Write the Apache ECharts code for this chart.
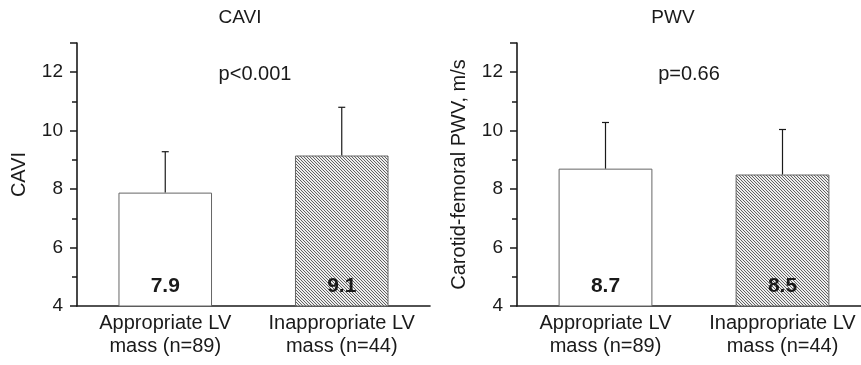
<!DOCTYPE html>
<html><head><meta charset="utf-8">
<script src="https://cdn.jsdelivr.net/npm/echarts@6/dist/echarts.min.js"></script>
<style>html,body{margin:0;padding:0;background:#fff}#c{width:861px;height:365px}</style>
</head><body><div id="c"></div>
<script>
const categories = ['Appropriate LV\nmass (n=89)', 'Inappropriate LV\nmass (n=44)'];
const caviMean = [7.88, 9.15];
const caviUpper = [9.28, 10.8];
const caviLabels = ['7.9', '9.1'];
const pwvMean = [8.7, 8.5];
const pwvUpper = [10.28, 10.04];
const pwvLabels = ['8.7', '8.5'];
const titles = ['CAVI', 'PWV'];
const pValues = ['p<0.001', 'p=0.66'];
const yNames = ['CAVI', 'Carotid-femoral PWV, m/s'];

const FONT = '"Liberation Sans", Arial, Helvetica, sans-serif';
const TXT = '#1a1a1a';

function hatch() {
  const cv = document.createElement('canvas');
  cv.width = 3; cv.height = 3;
  const ctx = cv.getContext('2d');
  const img = ctx.createImageData(3, 3);
  for (let y = 0; y < 3; y++) for (let x = 0; x < 3; x++) {
    const i = (y * 3 + x) * 4;
    const v = (x === y) ? 0x62 : 0xee;
    img.data[i] = v; img.data[i+1] = v; img.data[i+2] = v; img.data[i+3] = 255;
  }
  ctx.putImageData(img, 0, 0);
  return { image: cv, repeat: 'repeat' };
}
const pattern = hatch();

function yAxis(gi, name) {
  return {
    type: 'value', gridIndex: gi, min: 4, max: 13, interval: 2,
    name: name, nameLocation: 'middle', nameGap: 48, nameRotate: 90,
    nameTextStyle: { fontFamily: FONT, fontSize: 20, color: TXT },
    axisLine: { show: true, lineStyle: { color: TXT, width: 1.6 } },
    axisTick: { show: true, length: 7, lineStyle: { color: TXT, width: 1.5 } },
    minorTick: { show: true, splitNumber: 2, length: 5, lineStyle: { color: TXT, width: 1.5 } },
    axisLabel: { fontFamily: FONT, fontSize: 19, color: TXT, margin: 14,
      formatter: v => (v === 13 ? '' : String(v)) },
    splitLine: { show: false }
  };
}
function xAxis(gi) {
  return {
    type: 'category', gridIndex: gi, data: categories,
    axisLine: { lineStyle: { color: TXT, width: 1.6 } },
    axisTick: { show: false },
    axisLabel: { fontFamily: FONT, fontSize: 20, color: TXT, lineHeight: 23, margin: 6, interval: 0 }
  };
}
function barSeries(gi, vals, labels) {
  return {
    type: 'bar', xAxisIndex: gi, yAxisIndex: gi, barWidth: '53%',
    data: vals.map((v, i) => ({
      value: v,
      itemStyle: { color: i === 0 ? '#ffffff' : pattern, borderColor: '#666', borderWidth: 1 },
      label: { formatter: labels[i] }
    })),
    label: { show: true, position: 'insideBottom', distance: 10, fontFamily: FONT, fontSize: 21, fontWeight: 'bold', color: TXT },
    silent: true
  };
}
function errSeries(gi, mean, upper) {
  return {
    type: 'custom', xAxisIndex: gi, yAxisIndex: gi, silent: true, z: 5,
    data: mean.map((m, i) => [i, m, upper[i]]),
    renderItem: function (params, api) {
      const p0 = api.coord([api.value(0), api.value(1)]);
      const p1 = api.coord([api.value(0), api.value(2)]);
      const st = { stroke: TXT, lineWidth: 1.2 };
      return { type: 'group', children: [
        { type: 'line', shape: { x1: p0[0], y1: p0[1], x2: p1[0], y2: p1[1] }, style: st },
        { type: 'line', shape: { x1: p1[0] - 3.5, y1: p1[1], x2: p1[0] + 3.5, y2: p1[1] }, style: st }
      ] };
    }
  };
}

const chart = echarts.init(document.getElementById('c'));
chart.setOption({
  animation: false,
  backgroundColor: '#fff',
  grid: [
    { left: 77, width: 353, top: 43, bottom: 59, outerBoundsMode: 'none', containLabel: false },
    { left: 517, width: 354, top: 43, bottom: 59, outerBoundsMode: 'none', containLabel: false }
  ],
  xAxis: [xAxis(0), xAxis(1)],
  yAxis: [yAxis(0, yNames[0]), yAxis(1, yNames[1])],
  series: [
    barSeries(0, caviMean, caviLabels), errSeries(0, caviMean, caviUpper),
    barSeries(1, pwvMean, pwvLabels), errSeries(1, pwvMean, pwvUpper)
  ],
  graphic: [
    { type: 'text', x: 240, y: 18, style: { text: titles[0], align: 'center', verticalAlign: 'middle', font: '19px ' + FONT, fill: TXT } },
    { type: 'text', x: 673, y: 18, style: { text: titles[1], align: 'center', verticalAlign: 'middle', font: '19px ' + FONT, fill: TXT } },
    { type: 'text', x: 255, y: 74, style: { text: pValues[0], align: 'center', verticalAlign: 'middle', font: '20px ' + FONT, fill: TXT } },
    { type: 'text', x: 689, y: 74, style: { text: pValues[1], align: 'center', verticalAlign: 'middle', font: '20px ' + FONT, fill: TXT } }
  ]
});
</script></body></html>
